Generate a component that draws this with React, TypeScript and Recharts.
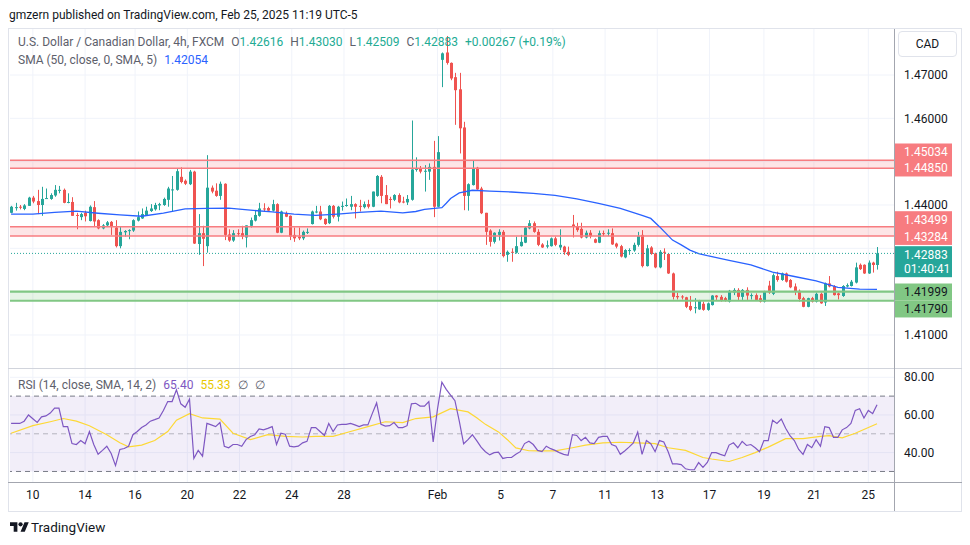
import React from "react";
import {
  ComposedChart,
  Bar,
  Line,
  XAxis,
  YAxis,
  CartesianGrid,
  ReferenceArea,
  ReferenceLine,
} from "recharts";

// USDCAD 4h candles (oldest first)
const opens = [
  1.4382, 1.4393, 1.4396, 1.4391, 1.4398, 1.4417, 1.4409, 1.44, 1.4415, 1.4414,
  1.4422, 1.4433, 1.4435, 1.4405, 1.4407, 1.4377, 1.4372, 1.4382, 1.4363, 1.4395,
  1.4365, 1.4346, 1.4353, 1.4361, 1.4348, 1.4305, 1.4337, 1.4341, 1.4341, 1.4364,
  1.4369, 1.4377, 1.4386, 1.439, 1.4399, 1.44, 1.4412, 1.4435, 1.4435, 1.4465,
  1.4456, 1.4448, 1.4477, 1.431, 1.4335, 1.4305, 1.444, 1.4433, 1.4421, 1.4449,
  1.4332, 1.4318, 1.4335, 1.4335, 1.4325, 1.4352, 1.4364, 1.4375, 1.4392, 1.4393,
  1.4387, 1.4402, 1.4336, 1.4381, 1.4375, 1.4331, 1.4327, 1.4323, 1.4336, 1.4356,
  1.4383, 1.4385, 1.4368, 1.4358, 1.4398, 1.4373, 1.4396, 1.4398, 1.4396, 1.4402,
  1.4398, 1.4395, 1.4402, 1.4396, 1.4421, 1.4465, 1.4423, 1.4414, 1.4412, 1.4423,
  1.4408, 1.4406, 1.4412, 1.4481, 1.4485, 1.4477, 1.4477, 1.4488, 1.4396, 1.4735,
  1.4752, 1.4728, 1.4695, 1.4667, 1.4579, 1.4421, 1.4446, 1.4486, 1.4438, 1.4382,
  1.4341, 1.4315, 1.4331, 1.4338, 1.4285, 1.4292, 1.429, 1.4305, 1.4313, 1.4346,
  1.4358, 1.4338, 1.4309, 1.4304, 1.4305, 1.4323, 1.4302, 1.4304, 1.4292, 1.4355,
  1.435, 1.4345, 1.4325, 1.4336, 1.4321, 1.4313, 1.4335, 1.4334, 1.4335, 1.4311,
  1.4305, 1.4279, 1.4295, 1.4295, 1.4308, 1.4331, 1.4259, 1.4302, 1.4288, 1.4256,
  1.4292, 1.4287, 1.4242, 1.419, 1.4189, 1.4187, 1.4167, 1.4162, 1.4159, 1.4172,
  1.4158, 1.4169, 1.4191, 1.4188, 1.4185, 1.4177, 1.4198, 1.4204, 1.4188, 1.4204,
  1.419, 1.4192, 1.4185, 1.4177, 1.4214, 1.4195, 1.4236, 1.4227, 1.4242, 1.4227,
  1.4212, 1.4202, 1.4185, 1.4165, 1.4185, 1.4177, 1.4195, 1.4175, 1.4219, 1.4213,
  1.4196, 1.419, 1.4212, 1.4213, 1.4221, 1.4262, 1.4262, 1.4242, 1.4267, 1.42616,
];
const highs = [
  1.4398, 1.4405, 1.44, 1.4402, 1.4419, 1.4421, 1.4435, 1.4442, 1.4438, 1.4427,
  1.4446, 1.4444, 1.4438, 1.4427, 1.4418, 1.4382, 1.4382, 1.4387, 1.4399, 1.4409,
  1.4367, 1.4356, 1.4363, 1.4363, 1.4365, 1.435, 1.4342, 1.4344, 1.4367, 1.4385,
  1.4392, 1.4396, 1.4402, 1.4405, 1.4405, 1.4417, 1.4442, 1.4467, 1.4483, 1.4487,
  1.4459, 1.4481, 1.4479, 1.4379, 1.4352, 1.4515, 1.4445, 1.445, 1.4454, 1.445,
  1.4344, 1.4342, 1.4344, 1.4352, 1.4353, 1.4371, 1.4388, 1.4405, 1.4404, 1.4396,
  1.4412, 1.4404, 1.4387, 1.4385, 1.4376, 1.4348, 1.4348, 1.4341, 1.4346, 1.4387,
  1.4398, 1.4398, 1.4369, 1.44, 1.44, 1.4398, 1.4408, 1.4415, 1.4421, 1.4404,
  1.4412, 1.4408, 1.4412, 1.4431, 1.4469, 1.4469, 1.4446, 1.4419, 1.4425, 1.4427,
  1.4419, 1.4423, 1.4595, 1.451, 1.449, 1.4492, 1.4496, 1.4548, 1.4559, 1.4752,
  1.479, 1.4729, 1.4705, 1.4705, 1.4592, 1.445, 1.4502, 1.4488, 1.4442, 1.4382,
  1.4344, 1.4337, 1.4344, 1.4342, 1.4295, 1.43, 1.4327, 1.4331, 1.435, 1.4365,
  1.4362, 1.4344, 1.4312, 1.4318, 1.4325, 1.4327, 1.4344, 1.4306, 1.4304, 1.4377,
  1.4359, 1.4359, 1.4341, 1.4342, 1.4323, 1.4341, 1.4341, 1.4344, 1.4346, 1.4313,
  1.4308, 1.4298, 1.43, 1.4313, 1.4338, 1.4342, 1.4308, 1.4305, 1.429, 1.4296,
  1.43, 1.4288, 1.4244, 1.4198, 1.4192, 1.4188, 1.419, 1.4185, 1.4181, 1.4177,
  1.4175, 1.4192, 1.4192, 1.4192, 1.4188, 1.4204, 1.4208, 1.4208, 1.4206, 1.421,
  1.4196, 1.4196, 1.4192, 1.4202, 1.4225, 1.4242, 1.4246, 1.4244, 1.4244, 1.4229,
  1.4219, 1.4205, 1.4188, 1.4186, 1.4188, 1.4198, 1.4198, 1.4221, 1.4236, 1.4215,
  1.4198, 1.4215, 1.4219, 1.4227, 1.4267, 1.4265, 1.4263, 1.4272, 1.4269, 1.4303,
];
const lows = [
  1.4381, 1.4387, 1.439, 1.4388, 1.4398, 1.4404, 1.4379, 1.4375, 1.4415, 1.4412,
  1.4419, 1.4427, 1.4404, 1.4404, 1.4375, 1.4344, 1.4365, 1.4362, 1.4362, 1.435,
  1.4344, 1.4344, 1.435, 1.4331, 1.4302, 1.43, 1.4327, 1.4321, 1.4338, 1.4362,
  1.4368, 1.4375, 1.4384, 1.4387, 1.4388, 1.4398, 1.4396, 1.4385, 1.4433, 1.445,
  1.4446, 1.4446, 1.431, 1.4285, 1.4259, 1.429, 1.4427, 1.4419, 1.4412, 1.4319,
  1.4315, 1.4315, 1.4327, 1.4321, 1.4302, 1.4348, 1.4362, 1.4373, 1.4385, 1.4385,
  1.4385, 1.4335, 1.4335, 1.4372, 1.4319, 1.4315, 1.4319, 1.4319, 1.4333, 1.4355,
  1.4381, 1.4365, 1.4354, 1.4356, 1.4369, 1.4362, 1.4387, 1.4396, 1.4388, 1.4369,
  1.4385, 1.4392, 1.4392, 1.4395, 1.4419, 1.4404, 1.4402, 1.4392, 1.4409, 1.4404,
  1.4404, 1.44, 1.441, 1.4477, 1.4473, 1.4431, 1.4458, 1.4372, 1.4395, 1.4672,
  1.4724, 1.4688, 1.4585, 1.4519, 1.4388, 1.4387, 1.4445, 1.4435, 1.4379, 1.4308,
  1.4304, 1.4311, 1.4318, 1.4279, 1.4269, 1.4269, 1.4288, 1.4304, 1.4312, 1.4344,
  1.4336, 1.4305, 1.4301, 1.43, 1.4304, 1.4305, 1.4296, 1.4285, 1.4282, 1.4325,
  1.4338, 1.4323, 1.4323, 1.4323, 1.4312, 1.4312, 1.4328, 1.4328, 1.4308, 1.43,
  1.4279, 1.4277, 1.4285, 1.4292, 1.4304, 1.4256, 1.4258, 1.4285, 1.4254, 1.4254,
  1.4273, 1.4241, 1.4182, 1.4182, 1.4182, 1.4162, 1.4155, 1.415, 1.4158, 1.4156,
  1.4156, 1.4168, 1.4181, 1.4177, 1.4177, 1.4175, 1.4192, 1.4181, 1.4181, 1.4181,
  1.4182, 1.4179, 1.4175, 1.4175, 1.4195, 1.4192, 1.4223, 1.4225, 1.4221, 1.4208,
  1.4192, 1.4177, 1.4164, 1.4164, 1.4175, 1.4175, 1.4172, 1.4167, 1.421, 1.4191,
  1.4182, 1.4188, 1.421, 1.4212, 1.4219, 1.425, 1.4241, 1.4241, 1.4244, 1.42509,
];
const closes = [
  1.4396, 1.4395, 1.4394, 1.4399, 1.4417, 1.4408, 1.44, 1.4414, 1.4416, 1.4423,
  1.4435, 1.4435, 1.4405, 1.4407, 1.4375, 1.4375, 1.4379, 1.4374, 1.4396, 1.4362,
  1.4346, 1.4353, 1.436, 1.435, 1.4305, 1.4338, 1.434, 1.4342, 1.4365, 1.4372,
  1.4379, 1.4387, 1.4392, 1.44, 1.4402, 1.4414, 1.4438, 1.4436, 1.4478, 1.4453,
  1.4449, 1.4477, 1.4311, 1.4335, 1.4322, 1.444, 1.4431, 1.4421, 1.4449, 1.4331,
  1.4318, 1.4335, 1.4333, 1.4327, 1.4353, 1.4365, 1.4377, 1.4392, 1.439, 1.4387,
  1.4402, 1.4336, 1.4385, 1.4373, 1.4327, 1.4323, 1.4323, 1.4338, 1.4338, 1.4385,
  1.4385, 1.4367, 1.4356, 1.4398, 1.4373, 1.4396, 1.4398, 1.44, 1.4402, 1.4396,
  1.4396, 1.4402, 1.4396, 1.4431, 1.4467, 1.4421, 1.4402, 1.4412, 1.4423, 1.4406,
  1.4407, 1.4414, 1.4482, 1.4485, 1.4477, 1.4479, 1.4488, 1.4396, 1.4522, 1.475,
  1.4728, 1.4692, 1.4665, 1.4577, 1.4421, 1.4448, 1.4485, 1.4436, 1.4381, 1.4338,
  1.4315, 1.4336, 1.4338, 1.4282, 1.4292, 1.4291, 1.4305, 1.4315, 1.4348, 1.4358,
  1.4338, 1.4308, 1.4302, 1.4307, 1.4323, 1.4308, 1.4308, 1.4291, 1.4285, 1.435,
  1.4342, 1.4325, 1.4336, 1.4328, 1.4313, 1.4335, 1.4333, 1.4336, 1.4309, 1.4304,
  1.4281, 1.4296, 1.4296, 1.4308, 1.4328, 1.4259, 1.43, 1.4287, 1.4256, 1.4292,
  1.429, 1.4242, 1.4188, 1.4187, 1.4187, 1.4165, 1.4158, 1.4164, 1.4179, 1.4158,
  1.4173, 1.4191, 1.4187, 1.4179, 1.4179, 1.4202, 1.4204, 1.4188, 1.4204, 1.4191,
  1.4192, 1.4181, 1.4177, 1.42, 1.4198, 1.4238, 1.4227, 1.4242, 1.4223, 1.421,
  1.42, 1.4183, 1.4165, 1.4185, 1.4177, 1.4195, 1.4173, 1.4219, 1.4212, 1.4192,
  1.4192, 1.4213, 1.4215, 1.4223, 1.4256, 1.4252, 1.4242, 1.4267, 1.42616, 1.42883,
];

// SMA(50) read at [bar, value]
const smaPoints: [number, number][] = [
  [0, 1.4379], [5, 1.4379], [10, 1.4383], [15, 1.4386], [20, 1.4381], [25, 1.4377],
  [30, 1.4374], [35, 1.4381], [40, 1.4391], [45, 1.4392], [50, 1.4393], [55, 1.4388],
  [60, 1.4384], [65, 1.4379], [70, 1.4376], [75, 1.4379], [80, 1.4383], [85, 1.4386],
  [90, 1.4382], [93, 1.4385], [95, 1.439], [99, 1.4394], [100, 1.4404], [101, 1.4415],
  [103, 1.4428], [106, 1.4434], [110, 1.4432], [115, 1.443], [120, 1.4427], [125, 1.4422],
  [130, 1.4414], [135, 1.4404], [140, 1.4392], [145, 1.4376], [147, 1.4369], [149, 1.435],
  [152, 1.4319], [154, 1.4308], [156, 1.4296], [158, 1.4288], [160, 1.4283], [165, 1.4272],
  [170, 1.4262], [175, 1.4245], [180, 1.4235], [185, 1.4225], [190, 1.421], [195, 1.4206],
  [199, 1.42054],
];

const rsiValues = [
  55.5, 55.5, 55.5, 56.7, 60, 58, 56, 59, 59.5, 61,
  63.6, 63.6, 53.8, 53.8, 44.8, 44.3, 46.4, 44.7, 51.2, 44.3,
  39.1, 41.2, 43.4, 39.5, 33.1, 41.7, 42.2, 43.4, 49.5, 51.2,
  53.3, 54.7, 56.7, 57.5, 58.4, 62.4, 67.1, 67.1, 73.3, 65.9,
  64.1, 68.4, 36.9, 41.2, 38.1, 55.5, 54.7, 53.8, 56, 43.4,
  42.6, 44.3, 44.3, 43.4, 46.9, 48.6, 49.5, 52.6, 52.1, 52.9,
  53.8, 44.3, 50.3, 49.8, 43.4, 43.1, 43.4, 45.2, 46, 53.3,
  53.3, 51.2, 49.1, 55.5, 51.2, 54.7, 55, 55, 55.5, 54.7,
  53.8, 54.7, 54.7, 60.7, 66.4, 55, 54.1, 54.3, 56, 53.3,
  53.3, 54.3, 65.9, 66.2, 64.7, 64.7, 67.1, 45.7, 63.3, 77.4,
  73.6, 70.5, 67.6, 56.7, 44.7, 46.9, 49.5, 46.4, 42.9, 40.5,
  38.8, 40, 40.3, 36.9, 37.4, 37.4, 39.1, 40.5, 44.8, 46,
  44.3, 41.2, 40.5, 43.4, 42.1, 41.2, 40, 39.1, 38.6, 49.5,
  49.1, 46.4, 48.1, 45.2, 44.8, 48.1, 48.6, 48.6, 44.3, 43.4,
  39.1, 40.9, 42.9, 45.2, 50.9, 39.1, 46.4, 44.7, 40.5, 46.4,
  45.7, 40.5, 34, 34, 33.6, 31.4, 30.9, 30.9, 34.7, 32.2,
  34.8, 40, 40, 39.1, 38.3, 44, 45.2, 42.6, 46, 43.8,
  44.3, 42.6, 40.5, 46.4, 46.4, 57.2, 55.5, 57.8, 52.9, 49,
  46.4, 41.7, 39.1, 44.3, 42.6, 46.9, 43.4, 53.8, 53.3, 48.1,
  48.1, 52.1, 53.3, 55.5, 62.4, 63.3, 58.4, 62.4, 60.7, 65.4,
];

// SMA(14) of RSI read at [bar, value]
const rsiMaPoints: [number, number][] = [
  [0, 50.3], [5, 54.3], [9, 56.4], [12, 58.1], [15, 56.7], [18, 54.3], [22, 49.5],
  [25, 45.2], [27, 43.1], [30, 44], [33, 46.4], [36, 51.2], [38, 57.2], [41, 60.7],
  [44, 58.4], [48, 57.8], [51, 50.3], [55, 46.9], [59, 49.5], [63, 48.6], [67, 48.3],
  [70, 48.6], [74, 48.6], [78, 51.2], [82, 53.8], [86, 56.4], [90, 55.9], [93, 58.1],
  [97, 59], [101, 63.3], [105, 61.6], [107, 58.5], [109, 55], [112, 51], [114, 47],
  [116, 42.5], [119, 41], [121, 40.9], [125, 40.9], [129, 42.6], [132, 44], [136, 45.2],
  [140, 45.5], [144, 45.2], [148, 44.8], [151, 42.6], [155, 41.2], [159, 37.4], [161, 36.6],
  [165, 35.3], [168, 37.4], [171, 40], [174, 42.9], [178, 47.4], [182, 47.4], [186, 48.6],
  [188, 49], [191, 47.8], [194, 50.3], [199, 55.33],
];

const dateTicks = [5, 17, 28.5, 40.5, 52.5, 64.5, 76.5, 98, 112.5, 124.5, 136.5, 148.5, 160.5, 173, 184.5, 197];
const dateLabels = ["10", "14", "16", "20", "22", "24", "28", "Feb", "5", "7", "11", "13", "17", "19", "21", "25"];

const priceGrid = [1.41, 1.42, 1.43, 1.44, 1.45, 1.46, 1.47];
const priceLabelShown = [1.41, 1.44, 1.46, 1.47];
const upperZone = [1.4485, 1.45034];
const middleZone = [1.43284, 1.43499];
const supportZone = [1.4179, 1.41999];
const rsiTicks = [40, 60, 80];

const HEADER = "gmzern published on TradingView.com, Feb 25, 2025 11:19 UTC-5";
const SYMBOL = "U.S. Dollar / Canadian Dollar, 4h, FXCM";
const CHANGE = "+0.00267 (+0.19%)";
const SMA_TITLE = "SMA (50, close, 0, SMA, 5)";
const RSI_TITLE = "RSI (14, close, SMA, 14, 2)";
const COUNTDOWN = "01:40:41";

const FONT = "Roboto, 'Noto Sans', sans-serif";
const GREEN = "#26a69a";
const RED = "#ef5350";
const BLUE = "#2962ff";
const PURPLE = "#7e57c2";
const YELLOW = "#fdd835";
const TEXT = "#131722";
const MUTED = "#5d606b";
const SCALE_LINE = "#a3a6af";

const X_MIN = -0.25;
const X_MAX = 202.9;
const P_MIN = 1.40238;
const P_MAX = 1.48062;

const last = closes.length - 1;
const smaMap = new Map(smaPoints);
const rsiMaMap = new Map(rsiMaPoints);
const rows = opens.map((o, i) => ({
  i,
  open: o,
  high: highs[i],
  low: lows[i],
  close: closes[i],
  range: [lows[i], highs[i]],
  sma: smaMap.has(i) ? smaMap.get(i) : null,
  rsi: rsiValues[i],
  rsiMa: rsiMaMap.has(i) ? rsiMaMap.get(i) : null,
}));

// price-scale tags: value, colours, nudge so stacked labels don't overlap
const tags = [
  { value: upperZone[1], bg: "#f77c80", fg: "#fff", dy: -7.9 },
  { value: upperZone[0], bg: "#f77c80", fg: "#fff", dy: 0.1 },
  { value: middleZone[1], bg: "#f77c80", fg: "#fff", dy: -6.7 },
  { value: middleZone[0], bg: "#f77c80", fg: "#fff", dy: 0.7 },
  { value: closes[last], bg: GREEN, fg: "#fff", dy: 1.6, countdown: true },
  { value: supportZone[1], bg: "#81c784", fg: TEXT, dy: 0.6 },
  { value: supportZone[0], bg: "#81c784", fg: TEXT, dy: 8.5 },
];

const Candle = (props: any) => {
  const { x, y, width, height, payload } = props;
  if (!payload) return null;
  const { open, close, high, low } = payload;
  const color = close >= open ? GREEN : RED;
  const top = Math.min(y, y + height);
  const h = Math.abs(height);
  const k = high === low ? 0 : h / (high - low);
  const bodyTop = top + (high - Math.max(open, close)) * k;
  const bodyH = Math.max(1, Math.abs(open - close) * k);
  const cx = Math.round(x + width / 2) + 0.5;
  return (
    <g>
      <line x1={cx} x2={cx} y1={top} y2={top + h} stroke={color} strokeWidth={1} />
      <rect x={cx - 1.5} y={bodyTop} width={3} height={bodyH} fill={color} />
    </g>
  );
};

const PriceTick = (p: any) => {
  const v = p.payload.value;
  const tag = tags.find((t) => t.value === v);
  if (tag) {
    const cy = p.y + tag.dy;
    const h = tag.countdown ? 31 : 17;
    return (
      <g>
        <rect x={p.x + 1} y={cy - 8.8} width={57} height={h} fill={tag.bg} />
        <text x={p.x + 10} y={cy} dy="0.35em" fontSize={12} fill={tag.fg} fontFamily={FONT}>
          {v.toFixed(5)}
        </text>
        {tag.countdown && (
          <text x={p.x + 10} y={cy + 14.3} dy="0.35em" fontSize={12} fill={tag.fg} fontFamily={FONT}>
            {COUNTDOWN}
          </text>
        )}
      </g>
    );
  }
  if (!priceLabelShown.includes(v)) return <g />;
  return (
    <text x={p.x + 10} y={p.y} dy="0.35em" fontSize={12} fill={TEXT} fontFamily={FONT}>
      {v.toFixed(5)}
    </text>
  );
};

const RsiTick = (p: any) => (
  <text x={p.x + 10} y={p.y} dy="0.35em" fontSize={12} fill={TEXT} fontFamily={FONT}>
    {Number(p.payload.value).toFixed(2)}
  </text>
);

const TimeTick = (p: any) => {
  const idx = dateTicks.indexOf(p.payload.value);
  return (
    <text x={p.x} y={p.y + 13} dy="0.35em" textAnchor="middle" fontSize={12} fill={TEXT} fontFamily={FONT}>
      {dateLabels[idx]}
    </text>
  );
};

const abs = (style: React.CSSProperties): React.CSSProperties => ({ position: "absolute", ...style });

export default function App() {
  const ohlc = [
    ["O", opens[last]],
    ["H", highs[last]],
    ["L", lows[last]],
    ["C", closes[last]],
  ] as [string, number][];

  return (
    <div style={abs({ left: 0, top: 0, width: 970, height: 545, background: "#fff", fontFamily: FONT, overflow: "hidden" })}>
      <div style={abs({ left: 9, top: 6, fontSize: 12, lineHeight: "18px", color: TEXT, whiteSpace: "nowrap" })}>{HEADER}</div>

      {/* frame */}
      <div style={abs({ left: 8, top: 28, width: 954, height: 484, border: "1px solid #e0e3eb", boxSizing: "border-box" })} />

      <div style={abs({ left: 10, top: 29 })}>
        <ComposedChart width={950} height={339} data={rows} margin={{ top: 0, right: 0, bottom: 0, left: 0 }}>
          <CartesianGrid stroke="#f0f3fa" horizontalValues={priceGrid} verticalValues={dateTicks} />
          <XAxis dataKey="i" type="number" domain={[X_MIN, X_MAX]} allowDataOverflow ticks={dateTicks} hide />
          <YAxis
            orientation="right"
            type="number"
            domain={[P_MIN, P_MAX]}
            allowDataOverflow
            width={66}
            ticks={[...priceGrid, ...tags.map((t) => t.value)]}
            interval={0}
            tickSize={0}
            tickMargin={0}
            tickLine={false}
            axisLine={false}
            tick={PriceTick}
          />
          <ReferenceArea y1={upperZone[0]} y2={upperZone[1]} fill="#f77c80" fillOpacity={0.2} stroke="none" />
          <ReferenceArea y1={middleZone[0]} y2={middleZone[1]} fill="#f77c80" fillOpacity={0.2} stroke="none" />
          <ReferenceArea y1={supportZone[0]} y2={supportZone[1]} fill="#81c784" fillOpacity={0.2} stroke="none" />
          {[...upperZone, ...middleZone].map((v) => (
            <ReferenceLine key={v} y={v} stroke="#f77c80" strokeWidth={1.5} />
          ))}
          {supportZone.map((v) => (
            <ReferenceLine key={v} y={v} stroke="#81c784" strokeWidth={2.2} />
          ))}
          <Bar dataKey="range" barSize={3} shape={<Candle />} isAnimationActive={false} />
          <Line dataKey="sma" stroke={BLUE} strokeWidth={1.3} dot={false} connectNulls isAnimationActive={false} />
          <ReferenceLine y={closes[last]} stroke={GREEN} strokeDasharray="1 2" />
        </ComposedChart>
      </div>

      <div style={abs({ left: 10, top: 369 })}>
        <ComposedChart width={950} height={141} data={rows} margin={{ top: 0, right: 0, bottom: 0, left: 0 }}>
          <CartesianGrid stroke="#f0f3fa" horizontalValues={rsiTicks} verticalValues={dateTicks} />
          <XAxis
            dataKey="i"
            type="number"
            domain={[X_MIN, X_MAX]}
            allowDataOverflow
            ticks={dateTicks}
            interval={0}
            height={28}
            tickSize={0}
            tickMargin={0}
            tickLine={false}
            axisLine={false}
            tick={TimeTick}
          />
          <YAxis
            orientation="right"
            type="number"
            domain={[24.4, 84.4]}
            allowDataOverflow
            width={66}
            ticks={rsiTicks}
            interval={0}
            tickSize={0}
            tickMargin={0}
            tickLine={false}
            axisLine={false}
            tick={RsiTick}
          />
          <ReferenceArea y1={30} y2={70} fill={PURPLE} fillOpacity={0.1} stroke="none" />
          <ReferenceLine y={70} stroke="#787b86" strokeDasharray="5 4" />
          <ReferenceLine y={50} stroke="#787b86" strokeOpacity={0.5} strokeDasharray="5 4" />
          <ReferenceLine y={30} stroke="#787b86" strokeDasharray="5 4" />
          <Line dataKey="rsiMa" stroke={YELLOW} strokeWidth={1.2} dot={false} connectNulls isAnimationActive={false} />
          <Line dataKey="rsi" stroke={PURPLE} strokeWidth={1.2} dot={false} isAnimationActive={false} />
        </ComposedChart>
      </div>

      {/* scale borders */}
      <div style={abs({ left: 8, top: 368, width: 954, height: 1, background: "#d1d4dc" })} />
      <div style={abs({ left: 8, top: 482, width: 954, height: 1, background: SCALE_LINE })} />
      <div style={abs({ left: 894, top: 29, width: 1, height: 482, background: SCALE_LINE })} />

      {/* currency button */}
      <div
        style={abs({
          left: 898, top: 31, width: 59, height: 26, border: "1px solid #e0e3eb", borderRadius: 4,
          boxSizing: "border-box", fontSize: 12, color: TEXT, display: "flex", alignItems: "center", justifyContent: "center",
        })}
      >
        CAD
      </div>

      {/* legends */}
      <div style={abs({ left: 18, top: 34, fontSize: 12, lineHeight: "16px", color: MUTED, whiteSpace: "nowrap" })}>
        <span>{SYMBOL}</span>
        {ohlc.map(([k, v]) => (
          <span key={k} style={{ marginLeft: 7 }}>
            {k}
            <span style={{ color: "#22ab94" }}>{v.toFixed(5)}</span>
          </span>
        ))}
        <span style={{ marginLeft: 7, color: "#22ab94" }}>{CHANGE}</span>
      </div>
      <div style={abs({ left: 18, top: 52, fontSize: 12, lineHeight: "16px", color: MUTED, whiteSpace: "nowrap" })}>
        <span>{SMA_TITLE}</span>
        <span style={{ marginLeft: 7, color: BLUE }}>{smaPoints[smaPoints.length - 1][1].toFixed(5)}</span>
      </div>
      <div style={abs({ left: 18, top: 377, fontSize: 12, lineHeight: "16px", color: MUTED, whiteSpace: "nowrap" })}>
        <span>{RSI_TITLE}</span>
        <span style={{ marginLeft: 7, color: PURPLE }}>{rsiValues[last].toFixed(2)}</span>
        <span style={{ marginLeft: 7, color: "#e8c800" }}>{rsiMaPoints[rsiMaPoints.length - 1][1].toFixed(2)}</span>
        <span style={{ marginLeft: 7 }}>∅</span>
        <span style={{ marginLeft: 7 }}>∅</span>
      </div>

      {/* footer */}
      <div style={abs({ left: 10, top: 519, display: "flex", alignItems: "center", color: TEXT })}>
        <svg width="19" height="15" viewBox="0 0 36 28">
          <path d="M14 22H7V11H0V4h14v18zM28 22h-8l7.5-18h8L28 22z" fill={TEXT} />
          <circle cx="20" cy="8" r="4" fill={TEXT} />
        </svg>
        <span style={{ marginLeft: 2, fontSize: 13.5, lineHeight: "16px" }}>TradingView</span>
      </div>
    </div>
  );
}
